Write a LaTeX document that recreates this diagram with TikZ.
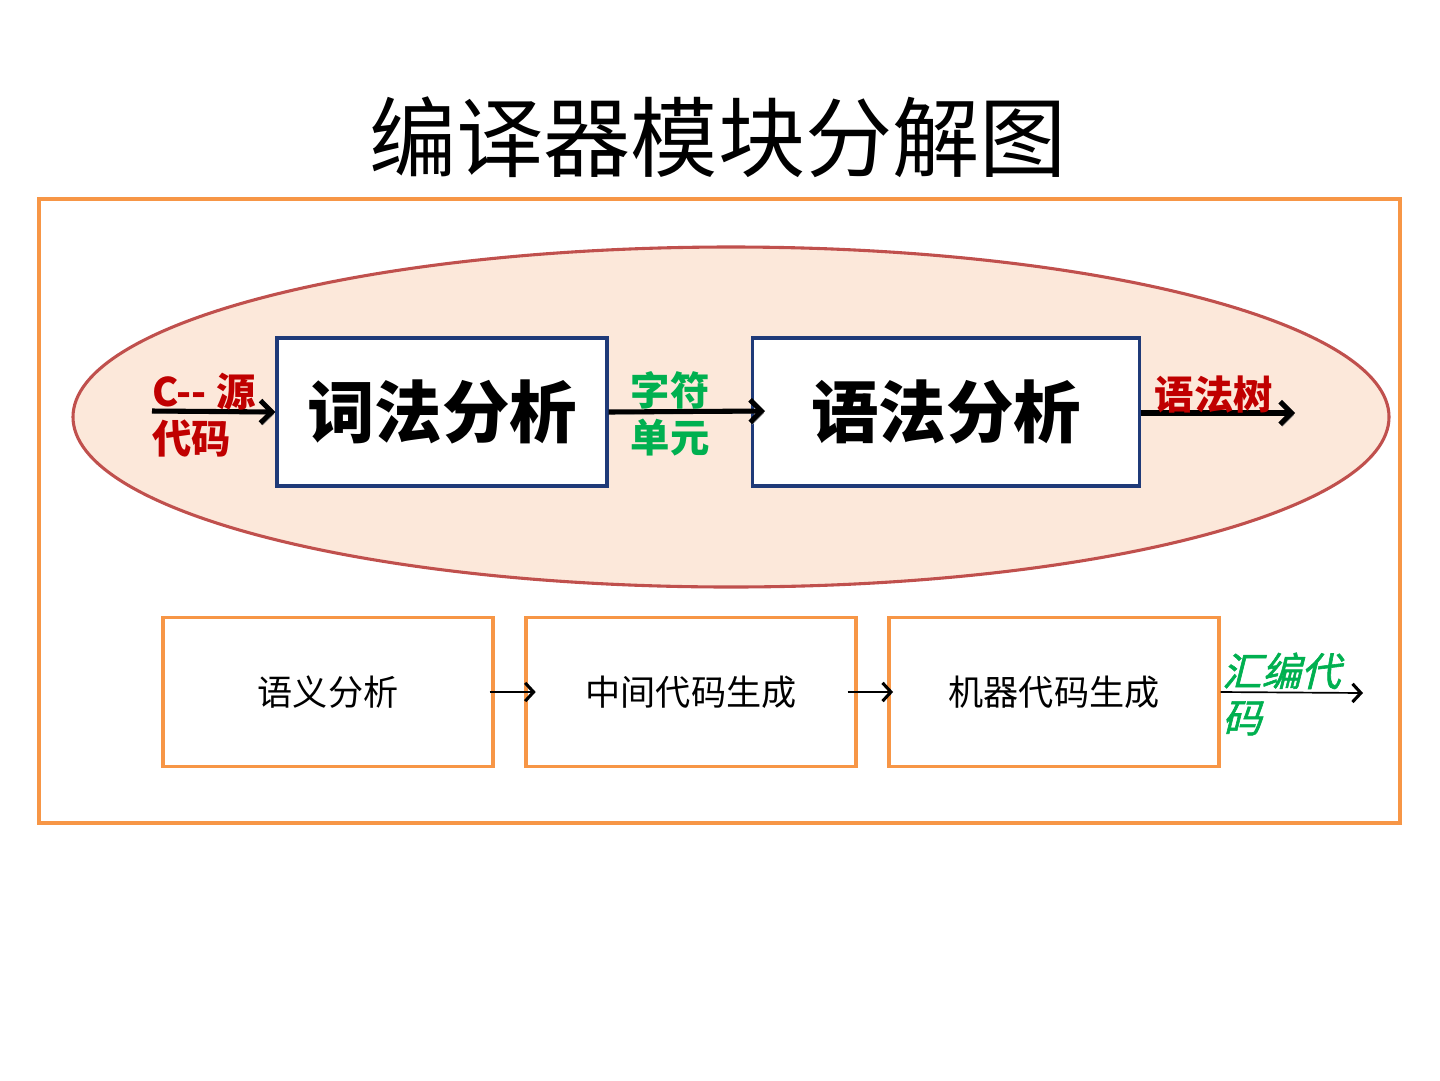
\documentclass[tikz,border=0pt]{standalone}
\usepackage{fontspec}
\setmainfont{Noto Sans CJK SC}
\newfontfamily\cjkit[FakeSlant=0.25,FakeBold=1.5]{Noto Sans CJK SC}
\usetikzlibrary{arrows.meta,positioning}
\definecolor{frame}{HTML}{F79646}
\definecolor{ovalfill}{HTML}{FCE8DA}
\definecolor{ovaledge}{HTML}{C0504D}
\definecolor{navy}{HTML}{1F3A78}
\definecolor{srcred}{HTML}{C00000}
\definecolor{tokgreen}{HTML}{00B050}

\begin{document}
\begin{tikzpicture}[x=0.025cm, y=-0.025cm,
  block/.style={draw=navy, line width=2.4pt, fill=white, minimum width=330*0.025cm,
    minimum height=148*0.025cm, font=\fontsize{48}{52}\selectfont\bfseries},
  stage/.style={draw=frame, line width=2.2pt, minimum width=330*0.025cm,
    minimum height=149*0.025cm, font=\fontsize{25}{28}\selectfont},
  tag/.style={font=\fontsize{28}{33}\selectfont\bfseries, align=left, inner sep=0pt},
  fat/.style={line width=3.6pt, -{Straight Barb[length=8pt,width=16pt]},
    preaction={draw=black!40, transform canvas={shift={(1.5pt,-1.5pt)}}}},
  thin/.style={line width=1.2pt, -{Straight Barb[length=6pt,width=13pt,line width=2.2pt]}}]
\useasboundingbox (0,0) rectangle (1440,1080);
\node[font=\fontsize{62}{70}\selectfont] (title) at (718,137) {编译器模块分解图};
\draw[frame, line width=2.2pt] (39,199) rectangle (1400,823);
\draw[ovaledge, line width=2.2pt, fill=ovalfill] (731,417) ellipse [x radius=658, y radius=170];
% front end
\node[block] (lex) at (442,412) {词法分析};
\node[block, minimum width=387*0.025cm] (syn) at (946,412) {语法分析};
\coordinate (src) at (152,411);
\coordinate (tok) at (765,411);
\coordinate (tree) at (1295,413);
\draw[fat] (src) -- (lex.west);
\draw[fat] (lex.east) -- (tok);
\draw[fat] (syn.east |- tree) -- (tree);
\node[tag, text=srcred, anchor=west] at (152,415) {C{-}{-} 源\\代码};
\node[tag, text=tokgreen, align=center] at (670,414) {字符\\单元};
\node[tag, text=srcred] at (1214,395) {语法树};
% back end
\node[stage] (sem) at (328,692) {语义分析};
\node[stage] (ir) at (691,692) {中间代码生成};
\node[stage] (gen) at (1054,692) {机器代码生成};
\coordinate (asm) at (1363,693);
\draw[thin, shorten <=-3.5pt, shorten >=-8pt] (sem.east) -- (ir.west);
\draw[thin, shorten <=-7pt, shorten >=-4pt] (ir.east) -- (gen.west);
\draw[thin] (gen.east) -- (asm);
\node[tag, text=tokgreen, anchor=west, font=\fontsize{28}{33}\selectfont\cjkit] at (1222,694) {汇编代\\码};
\end{tikzpicture}
\end{document}
